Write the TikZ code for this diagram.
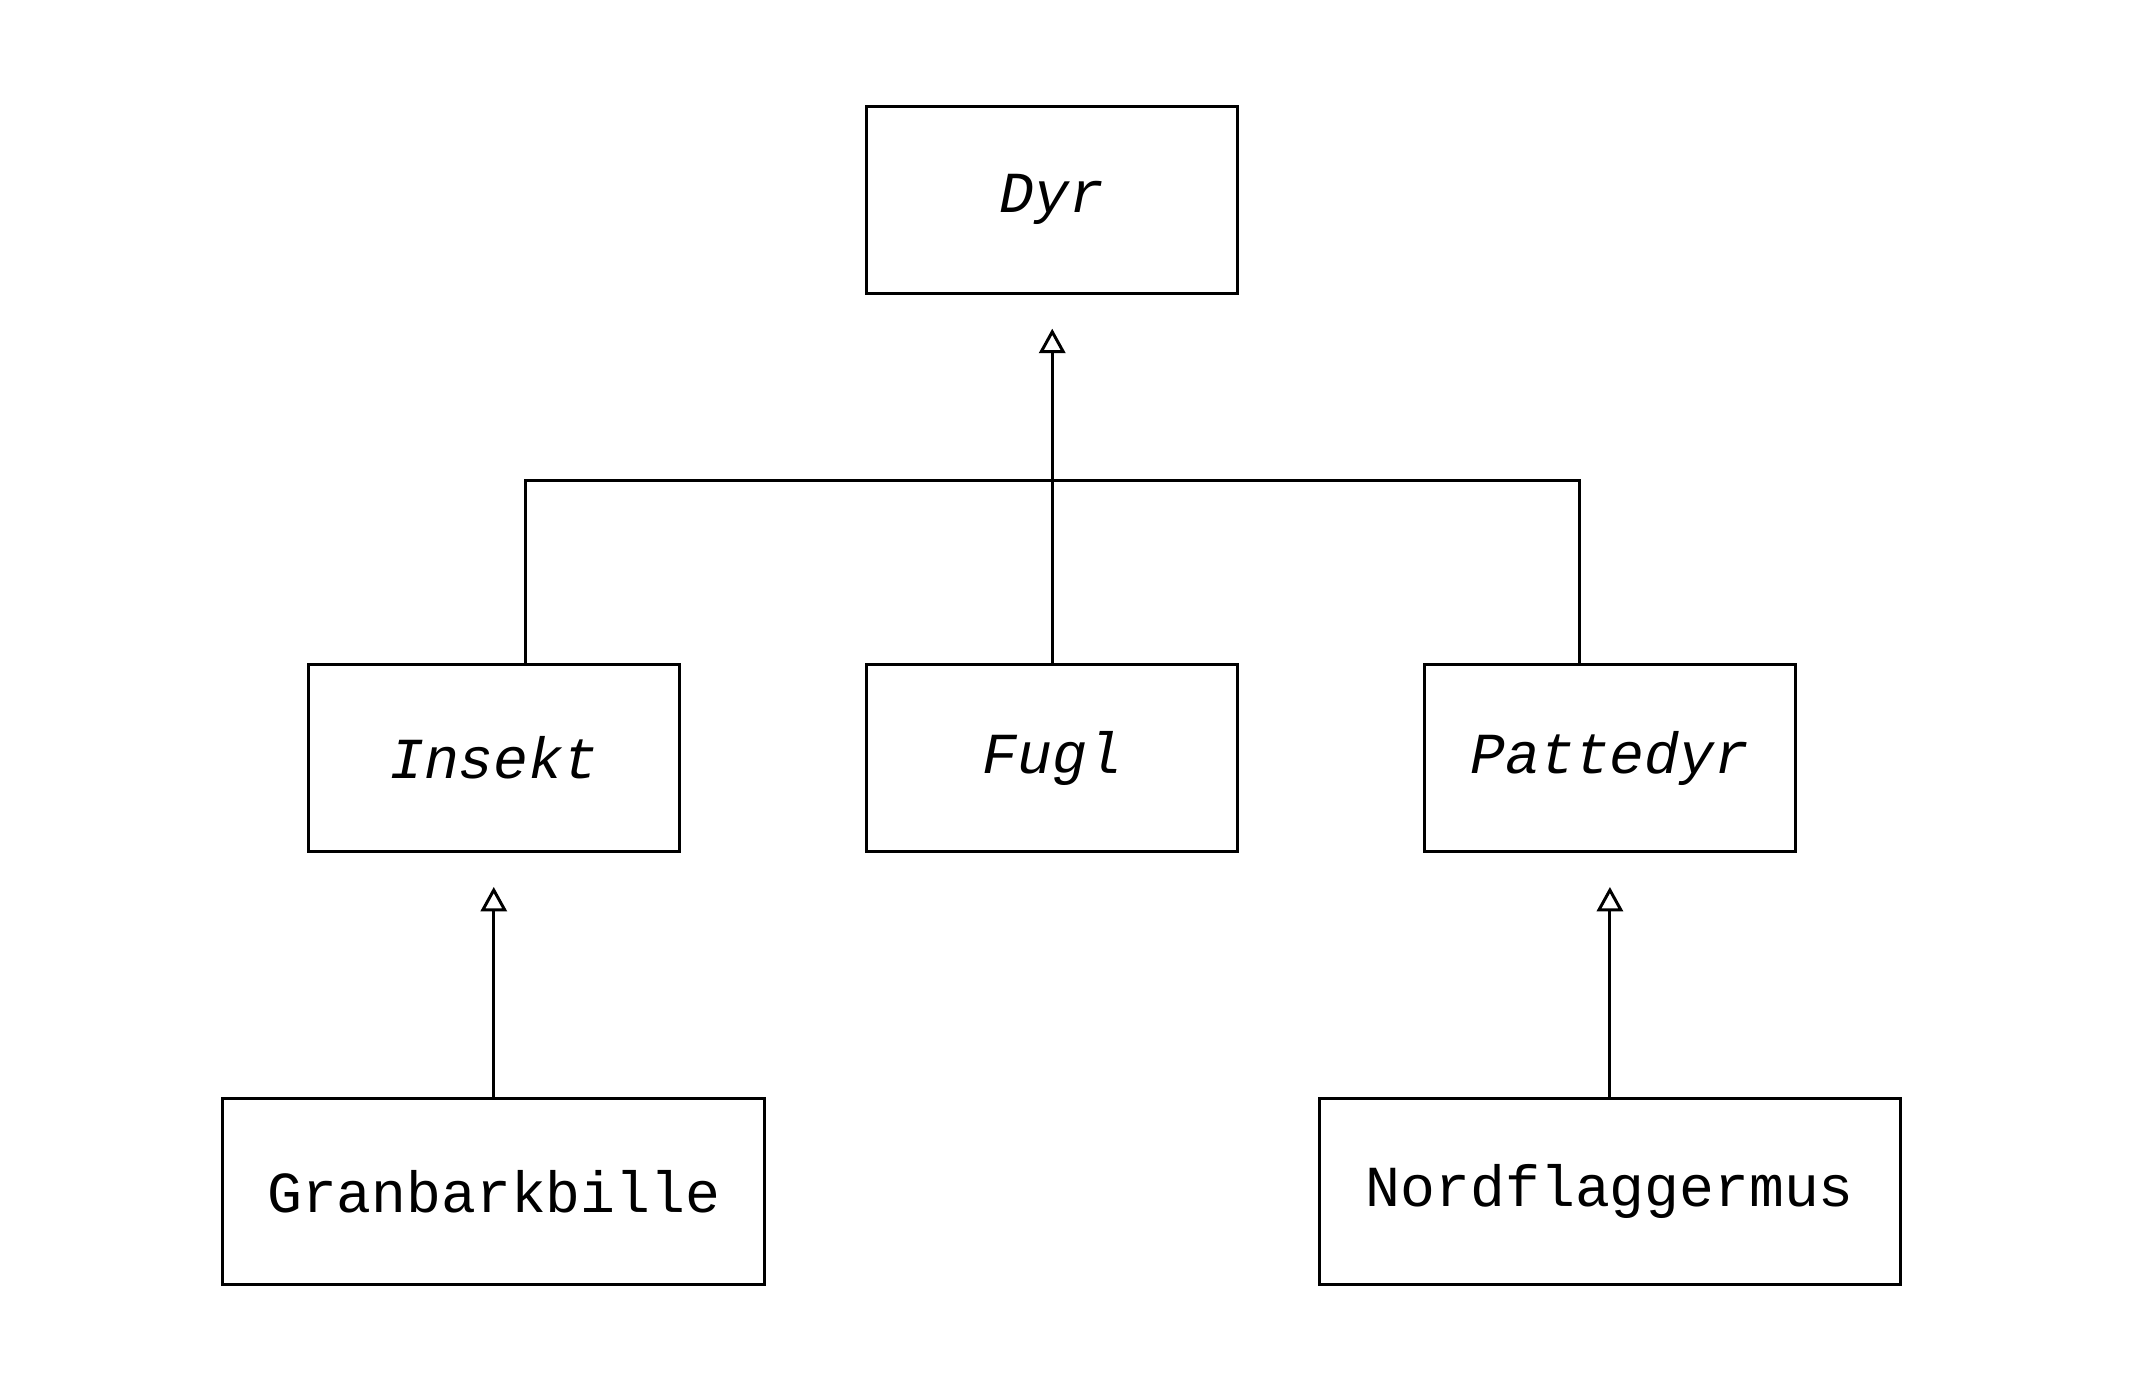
\documentclass[tikz,border=0pt]{standalone}
\usepackage{fontspec}
\setmonofont{Liberation Mono}
\usetikzlibrary{arrows.meta}

\begin{document}
\begin{tikzpicture}[font={\ttfamily\fontsize{16.6}{20}\selectfont}, line width=0.85pt,
every node/.style={draw, rectangle, minimum height=1.878cm, inner sep=0pt},
abstrakt/.style={minimum width=3.729cm, font={\ttfamily\itshape\fontsize{16.6}{20}\selectfont}},
arv/.style={-{Triangle[open, width=7.5pt, length=7pt]}, shorten >=0.34cm}]

\useasboundingbox (0,0) rectangle (21.487,-13.943);

\path
(10.570,-2.008) node[abstrakt] (dyr) {Dyr}
(4.960,-7.616) node[abstrakt] (insekt) {Insekt}
(10.570,-7.616) node[abstrakt] (fugl) {Fugl}
(16.172,-7.616) node[abstrakt] (pattedyr) {Pattedyr}
(4.960,-11.969) node[minimum width=5.443cm] (granbarkbille) {Granbarkbille}
(16.172,-11.969) node[minimum width=5.840cm] (nordflaggermus) {Nordflaggermus}
;

% arv fra Dyr
\coordinate (grein) at (10.570,-4.826);
\draw[arv] (grein) -- (dyr);
\draw (fugl) -- (grein);
\draw ([xshift=0.318cm]insekt.north) |- (grein) -| ([xshift=-0.31cm]pattedyr.north);

% arv fra Insekt og Pattedyr
\draw[arv] (granbarkbille) -- (insekt);
\draw[arv] (nordflaggermus) -- (pattedyr);

\end{tikzpicture}
\end{document}
